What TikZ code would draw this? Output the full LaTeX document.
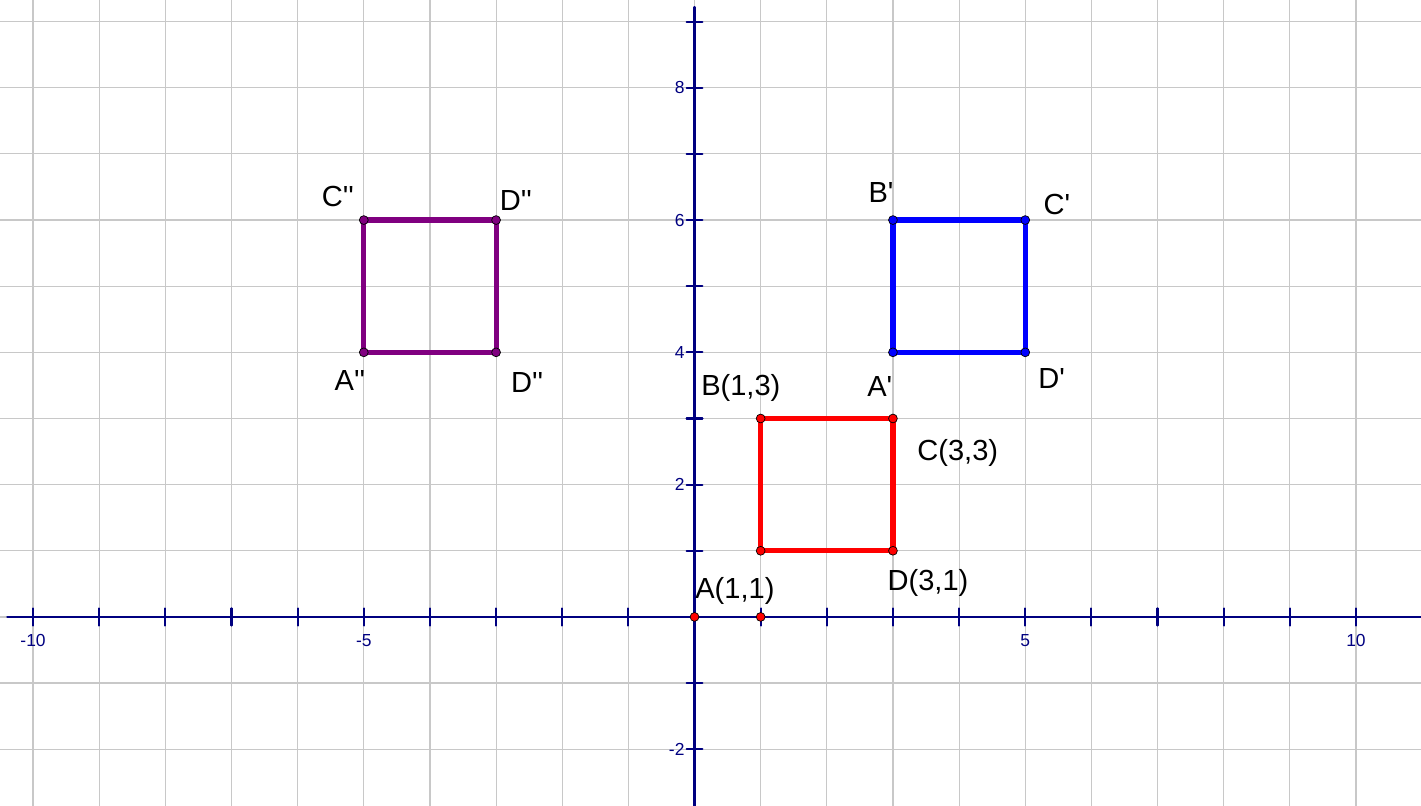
\documentclass[tikz,border=0pt]{standalone}
\usepackage{fontspec}
\setmainfont{Liberation Sans}[Ligatures=TeXOff]
\definecolor{gridgray}{RGB}{200,200,200}
\definecolor{axisnavy}{RGB}{0,0,128}
\definecolor{sqred}{RGB}{255,0,0}
\definecolor{sqblue}{RGB}{0,0,255}
\definecolor{sqpurple}{RGB}{128,0,128}
\begin{document}
\begin{tikzpicture}[x=1cm,y=1cm,line cap=round,line join=round,
  every node/.style={font=\fontsize{12.5}{15}\selectfont},
  gridline/.style={draw=gridgray,line width=.5pt},
  axisline/.style={draw=axisnavy,line width=.9pt},
  ticklabel/.style={text=axisnavy,font=\fontsize{7.5}{9}\selectfont,inner sep=1pt},
  side/.style={line width=2.2pt},
  vertex/.style={draw=black,line width=.3pt,fill=#1}]
  \useasboundingbox (-10.5,-2.857) rectangle (10.983,9.327);
  % Grid and axes
  \draw[gridline,step=1] (-10.5,-2.857) grid (10.983,9.327);
  \coordinate (O) at (0,0);
  \coordinate (XL) at (-10.39,0);
  \coordinate (XR) at (10.983,0);
  \coordinate (YB) at (0,-2.857);
  \coordinate (YT) at (0,9.22);
  \draw[axisline] (XL)--(XR);
  \draw[axisline] (YB)--(YT);
  \foreach \i in {-10,...,10} \draw[axisline] (\i,-.13)--(\i,.13);
  \foreach \j in {-2,...,9} \draw[axisline] (-.12,\j)--(.12,\j);
  \foreach \i in {-10,-5,5,10} \node[ticklabel] (xl\i) at (\i,-.36) {\i};
  \foreach \j in {-2,2,4,6,8} \node[ticklabel,anchor=east] (yl\j) at (-.11,\j) {\j};

  % Original square ABCD
  \coordinate (A) at (1,1);
  \coordinate (B) at (1,3);
  \coordinate (C) at (3,3);
  \coordinate (D) at (3,1);
  \draw[side,sqred] (A)--(B)--(C)--(D)--cycle;
  \foreach \p in {A,B,C,D} \filldraw[vertex=sqred] (\p) circle (1.9pt);
  \coordinate (P0) at (0,0);
  \coordinate (P1) at (1,0);
  \filldraw[vertex=sqred] (P0) circle (1.9pt) (P1) circle (1.9pt);
  \node (lA) at (0.61,0.39) {A(1,1)};
  \node (lB) at (0.70,3.46) {B(1,3)};
  \node (lC) at (3.98,2.48) {C(3,3)};
  \node (lD) at (3.53,0.51) {D(3,1)};

  % Image A'B'C'D'
  \coordinate (A1) at (3,4);
  \coordinate (B1) at (3,6);
  \coordinate (C1) at (5,6);
  \coordinate (D1) at (5,4);
  \draw[side,sqblue] (A1)--(B1)--(C1)--(D1)--cycle;
  \foreach \p in {A1,B1,C1,D1} \filldraw[vertex=sqblue] (\p) circle (1.9pt);
  \node (lA1) at (2.80,3.48) {A'};
  \node (lB1) at (2.82,6.42) {B'};
  \node (lC1) at (5.48,6.23) {C'};
  \node (lD1) at (5.40,3.61) {D'};

  % Image A''C''D''D''
  \coordinate (A2) at (-5,4);
  \coordinate (C2) at (-5,6);
  \coordinate (D2) at (-3,6);
  \coordinate (E2) at (-3,4);
  \draw[side,sqpurple] (A2)--(C2)--(D2)--(E2)--cycle;
  \foreach \p in {A2,C2,D2,E2} \filldraw[vertex=sqpurple] (\p) circle (1.9pt);
  \node (lA2) at (-5.21,3.58) {A''};
  \node (lC2) at (-5.39,6.35) {C''};
  \node (lD2) at (-2.70,6.30) {D''};
  \node (lE2) at (-2.53,3.55) {D''};
\end{tikzpicture}
\end{document}
